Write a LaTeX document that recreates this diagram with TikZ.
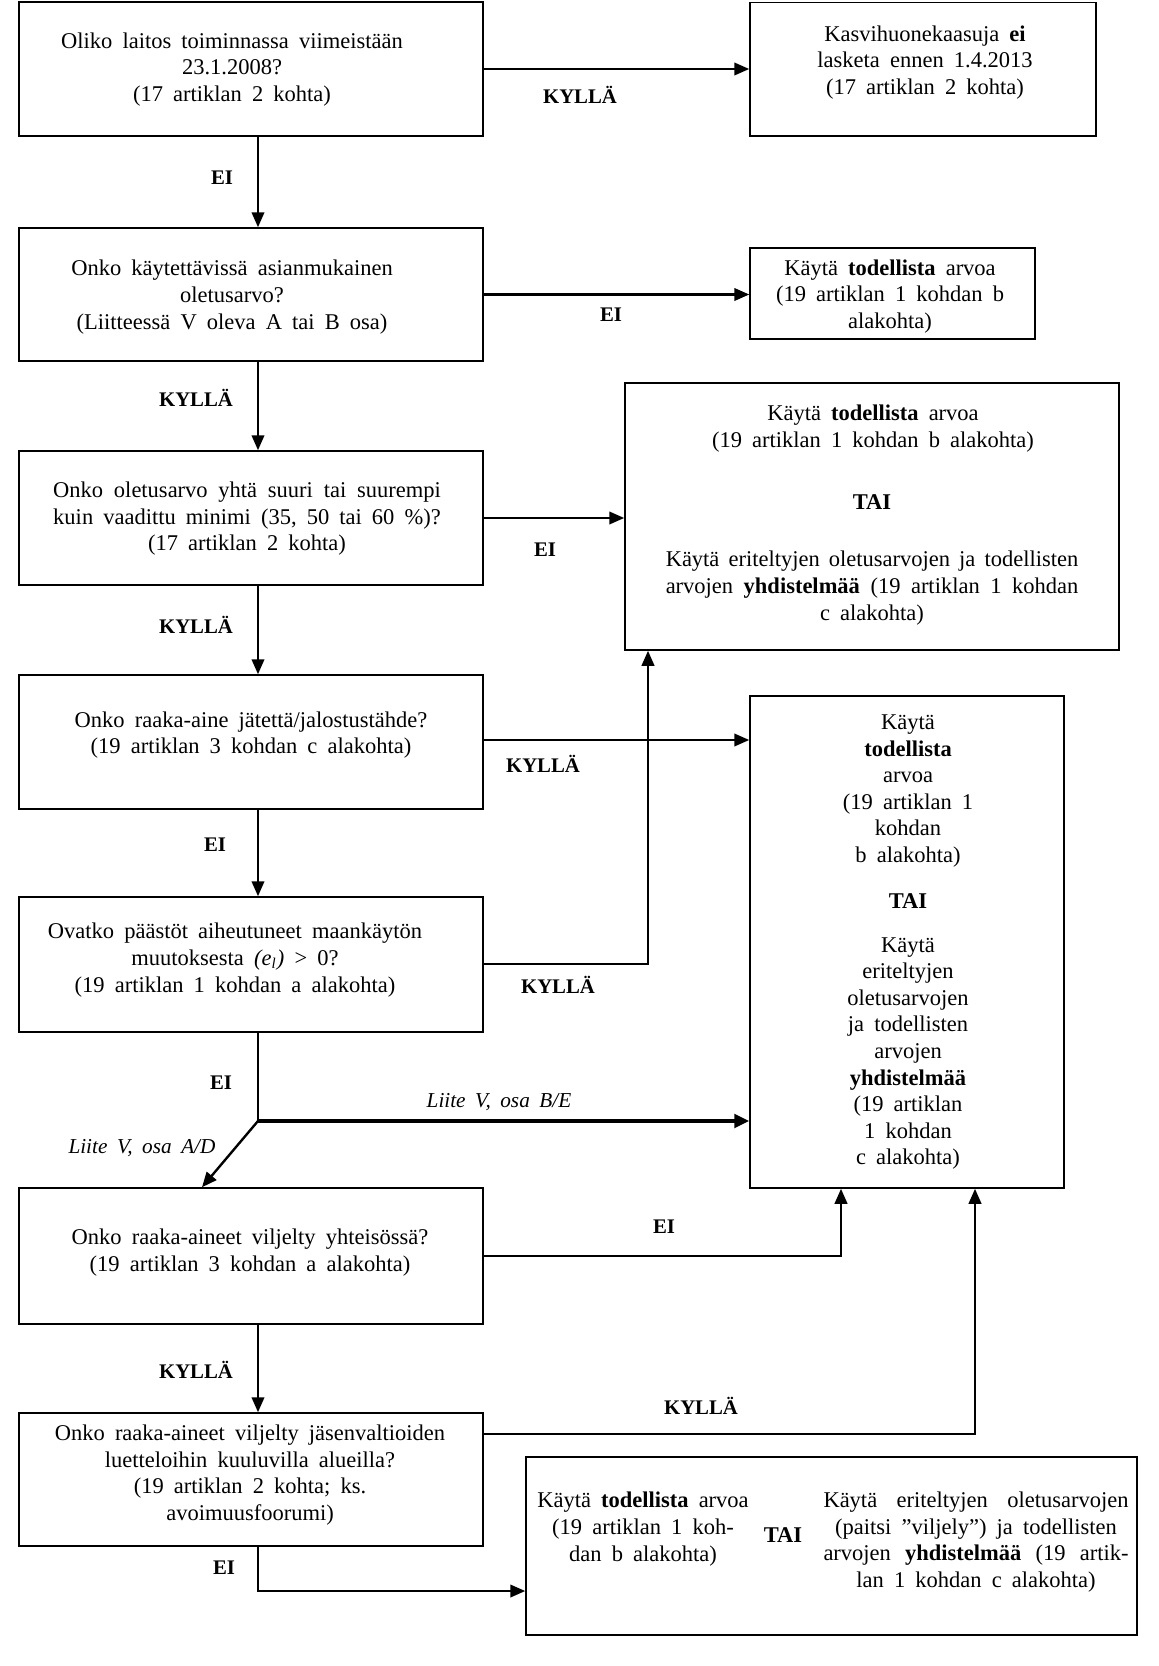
\documentclass[tikz,border=0pt]{standalone}
\usepackage{fontspec}
\setmainfont{Liberation Serif}[WordSpace=1.8]
\usetikzlibrary{arrows.meta,calc}
\tikzset{
  box/.style={draw, line width=0.6pt, inner sep=0pt, rectangle},
  txt/.style={align=center, font=\fontsize{9}{10.64}\selectfont, inner sep=0pt},
  tai/.style={font=\fontsize{9}{10.64}\selectfont\bfseries, inner sep=0pt},
  lab/.style={font=\fontsize{8.3}{9.6}\selectfont\bfseries, inner sep=0pt},
  ilab/.style={font=\fontsize{8.5}{9.6}\selectfont\itshape, inner sep=0pt},
  conn/.style={line width=0.95pt, -{Triangle[length=6pt,width=5pt]}},
  plainline/.style={line width=0.95pt},
  thickconn/.style={line width=1.7pt, -{Triangle[length=6pt,width=5.4pt]}}
}
\begin{document}
\begin{tikzpicture}[x=0.4pt,y=-0.4pt]
\useasboundingbox (0,0) rectangle (1159,1666);

% left column boxes
\node[box, minimum width=185.6pt, minimum height=53.6pt] (b1) at (251,69) {};
\node[box, minimum width=185.6pt, minimum height=53.2pt] (b2) at (251,294.5) {};
\node[box, minimum width=185.6pt, minimum height=53.6pt] (b3) at (251,518) {};
\node[box, minimum width=185.6pt, minimum height=53.6pt] (b4) at (251,742) {};
\node[box, minimum width=185.6pt, minimum height=54pt] (b5) at (251,964.5) {};
\node[box, minimum width=185.6pt, minimum height=54.4pt] (b6) at (251,1256) {};
\node[box, minimum width=185.6pt, minimum height=53.2pt] (b7) at (251,1479.5) {};

% right column boxes
\node[box, minimum width=138.4pt, minimum height=53.3pt] (r1) at (923,69.3) {};
\node[box, minimum width=114pt, minimum height=36.4pt] (r2) at (892.5,293.5) {};
\node[box, minimum width=197.6pt, minimum height=106.8pt] (r3) at (872,516.5) {};
\node[box, minimum width=125.6pt, minimum height=196.8pt] (r4) at (907,942) {};
\node[box, minimum width=244.4pt, minimum height=71.2pt] (r5) at (831.5,1546) {};

% texts of left boxes
\node[txt] (t1) at (232,69.5) {Oliko laitos toiminnassa viimeistään\\23.1.2008?\\(17 artiklan 2 kohta)};
\node[txt] (t2) at (232,297) {Onko käytettävissä asianmukainen\\oletusarvo?\\(Liitteessä V oleva A tai B osa)};
\node[txt] (t3) at (247,518.7) {\makebox[155pt][s]{Onko oletusarvo yhtä suuri tai suurempi}\\\makebox[155pt][s]{kuin vaadittu minimi (35, 50 tai 60 \%)?}\\(17 artiklan 2 kohta)};
\node[txt] (t4) at (251,735) {Onko raaka-aine jätettä/jalostustähde?\\(19 artiklan 3 kohdan c alakohta)};
\node[txt] (t5) at (235,960) {Ovatko päästöt aiheutuneet maankäytön\\muutoksesta \textit{(e\textsubscript{l})} > 0?\\(19 artiklan 1 kohdan a alakohta)};
\node[txt] (t6) at (250,1252.5) {Onko raaka-aineet viljelty yhteisössä?\\(19 artiklan 3 kohdan a alakohta)};
\node[txt] (t7) at (250,1475) {Onko raaka-aineet viljelty jäsenvaltioiden\\luetteloihin kuuluvilla alueilla?\\(19 artiklan 2 kohta; ks.\\avoimuusfoorumi)};

% texts of right boxes
\node[txt] (u1) at (925,62.5) {Kasvihuonekaasuja \textbf{ei}\\lasketa ennen 1.4.2013\\(17 artiklan 2 kohta)};
\node[txt] (u2) at (890,296.5) {Käytä \textbf{todellista} arvoa\\(19 artiklan 1 kohdan b\\alakohta)};
\node[txt] (u3a) at (873,428.4) {Käytä \textbf{todellista} arvoa\\(19 artiklan 1 kohdan b alakohta)};
\node[tai] (u3t) at (872,501.7) {TAI};
\node[txt] (u3b) at (872,588) {\makebox[165pt][s]{Käytä eriteltyjen oletusarvojen ja todellisten}\\\makebox[165pt][s]{arvojen \textbf{yhdistelmää} (19 artiklan 1 kohdan}\\c alakohta)};
\node[txt] (u4a) at (908,791) {Käytä\\\textbf{todellista}\\arvoa\\(19 artiklan 1\\kohdan\\b alakohta)};
\node[tai] (u4t) at (908,901) {TAI};
\node[txt] (u4b) at (908,1053.5) {Käytä\\eriteltyjen\\oletusarvojen\\ja todellisten\\arvojen\\\textbf{yhdistelmää}\\(19 artiklan\\1 kohdan\\c alakohta)};
\node[txt] (u5a) at (643,1529) {Käytä \textbf{todellista} arvoa\\(19 artiklan 1 koh-\\dan b alakohta)};
\node[tai] (u5t) at (783,1535) {TAI};
\node[txt] (u5b) at (976,1542) {\makebox[122pt][s]{Käytä eriteltyjen oletusarvojen}\\(paitsi ”viljely”) ja todellisten\\\makebox[122pt][s]{arvojen \textbf{yhdistelmää} (19 artik-}\\lan 1 kohdan c alakohta)};

% helper coordinates
\coordinate (sp) at (258,0);
\coordinate (y4) at (0,740);
\coordinate (v5) at (648,964);
\coordinate (J) at (258,1121);
\coordinate (ad) at (202,0);
\coordinate (v6) at (841,1256);
\coordinate (v7) at (975,1434);
\coordinate (c7) at (258,1591);

% connectors
\draw[conn] (b1.east) -- (b1.east -| r1.west);
\draw[conn] (b1.south -| sp) -- (b2.north -| sp);
\draw[conn] (b2.east) -- (b2.east -| r2.west);
\draw[conn] (b2.south -| sp) -- (b3.north -| sp);
\draw[conn] (b3.east) -- (b3.east -| r3.west);
\draw[conn] (b3.south -| sp) -- (b4.north -| sp);
\draw[conn] (b4.east |- y4) -- (r4.west |- y4);
\draw[conn] (b4.south -| sp) -- (b5.north -| sp);
\draw[conn] (b5.east |- v5) -- (v5) -- (v5 |- r3.south);
\draw[plainline] (b5.south -| sp) -- (J);
\draw[thickconn] (J) -- (J -| r4.west);
\draw[conn] (J) -- (b6.north -| ad);
\draw[conn] (b6.east |- v6) -- (v6) -- (v6 |- r4.south);
\draw[conn] (b6.south -| sp) -- (b7.north -| sp);
\draw[conn] (b7.east |- v7) -- (v7) -- (v7 |- r4.south);
\draw[conn] (b7.south -| sp) -- (c7) -- (c7 -| r5.west);

% labels
\node[lab] (l1) at (580,95) {KYLLÄ};
\node[lab] (l2) at (222,178) {EI};
\node[lab] (l3) at (611,315) {EI};
\node[lab] (l4) at (196,398) {KYLLÄ};
\node[lab] (l5) at (545,550) {EI};
\node[lab] (l6) at (196,625) {KYLLÄ};
\node[lab] (l7) at (543,764) {KYLLÄ};
\node[lab] (l8) at (215,845) {EI};
\node[lab] (l9) at (558,985) {KYLLÄ};
\node[lab] (l10) at (221,1083) {EI};
\node[ilab] (l11) at (499,1102) {Liite V, osa B/E};
\node[ilab] (l12) at (142,1148) {Liite V, osa A/D};
\node[lab] (l13) at (664,1227) {EI};
\node[lab] (l14) at (196,1370) {KYLLÄ};
\node[lab] (l15) at (701,1406) {KYLLÄ};
\node[lab] (l16) at (224,1568) {EI};
\end{tikzpicture}
\end{document}
